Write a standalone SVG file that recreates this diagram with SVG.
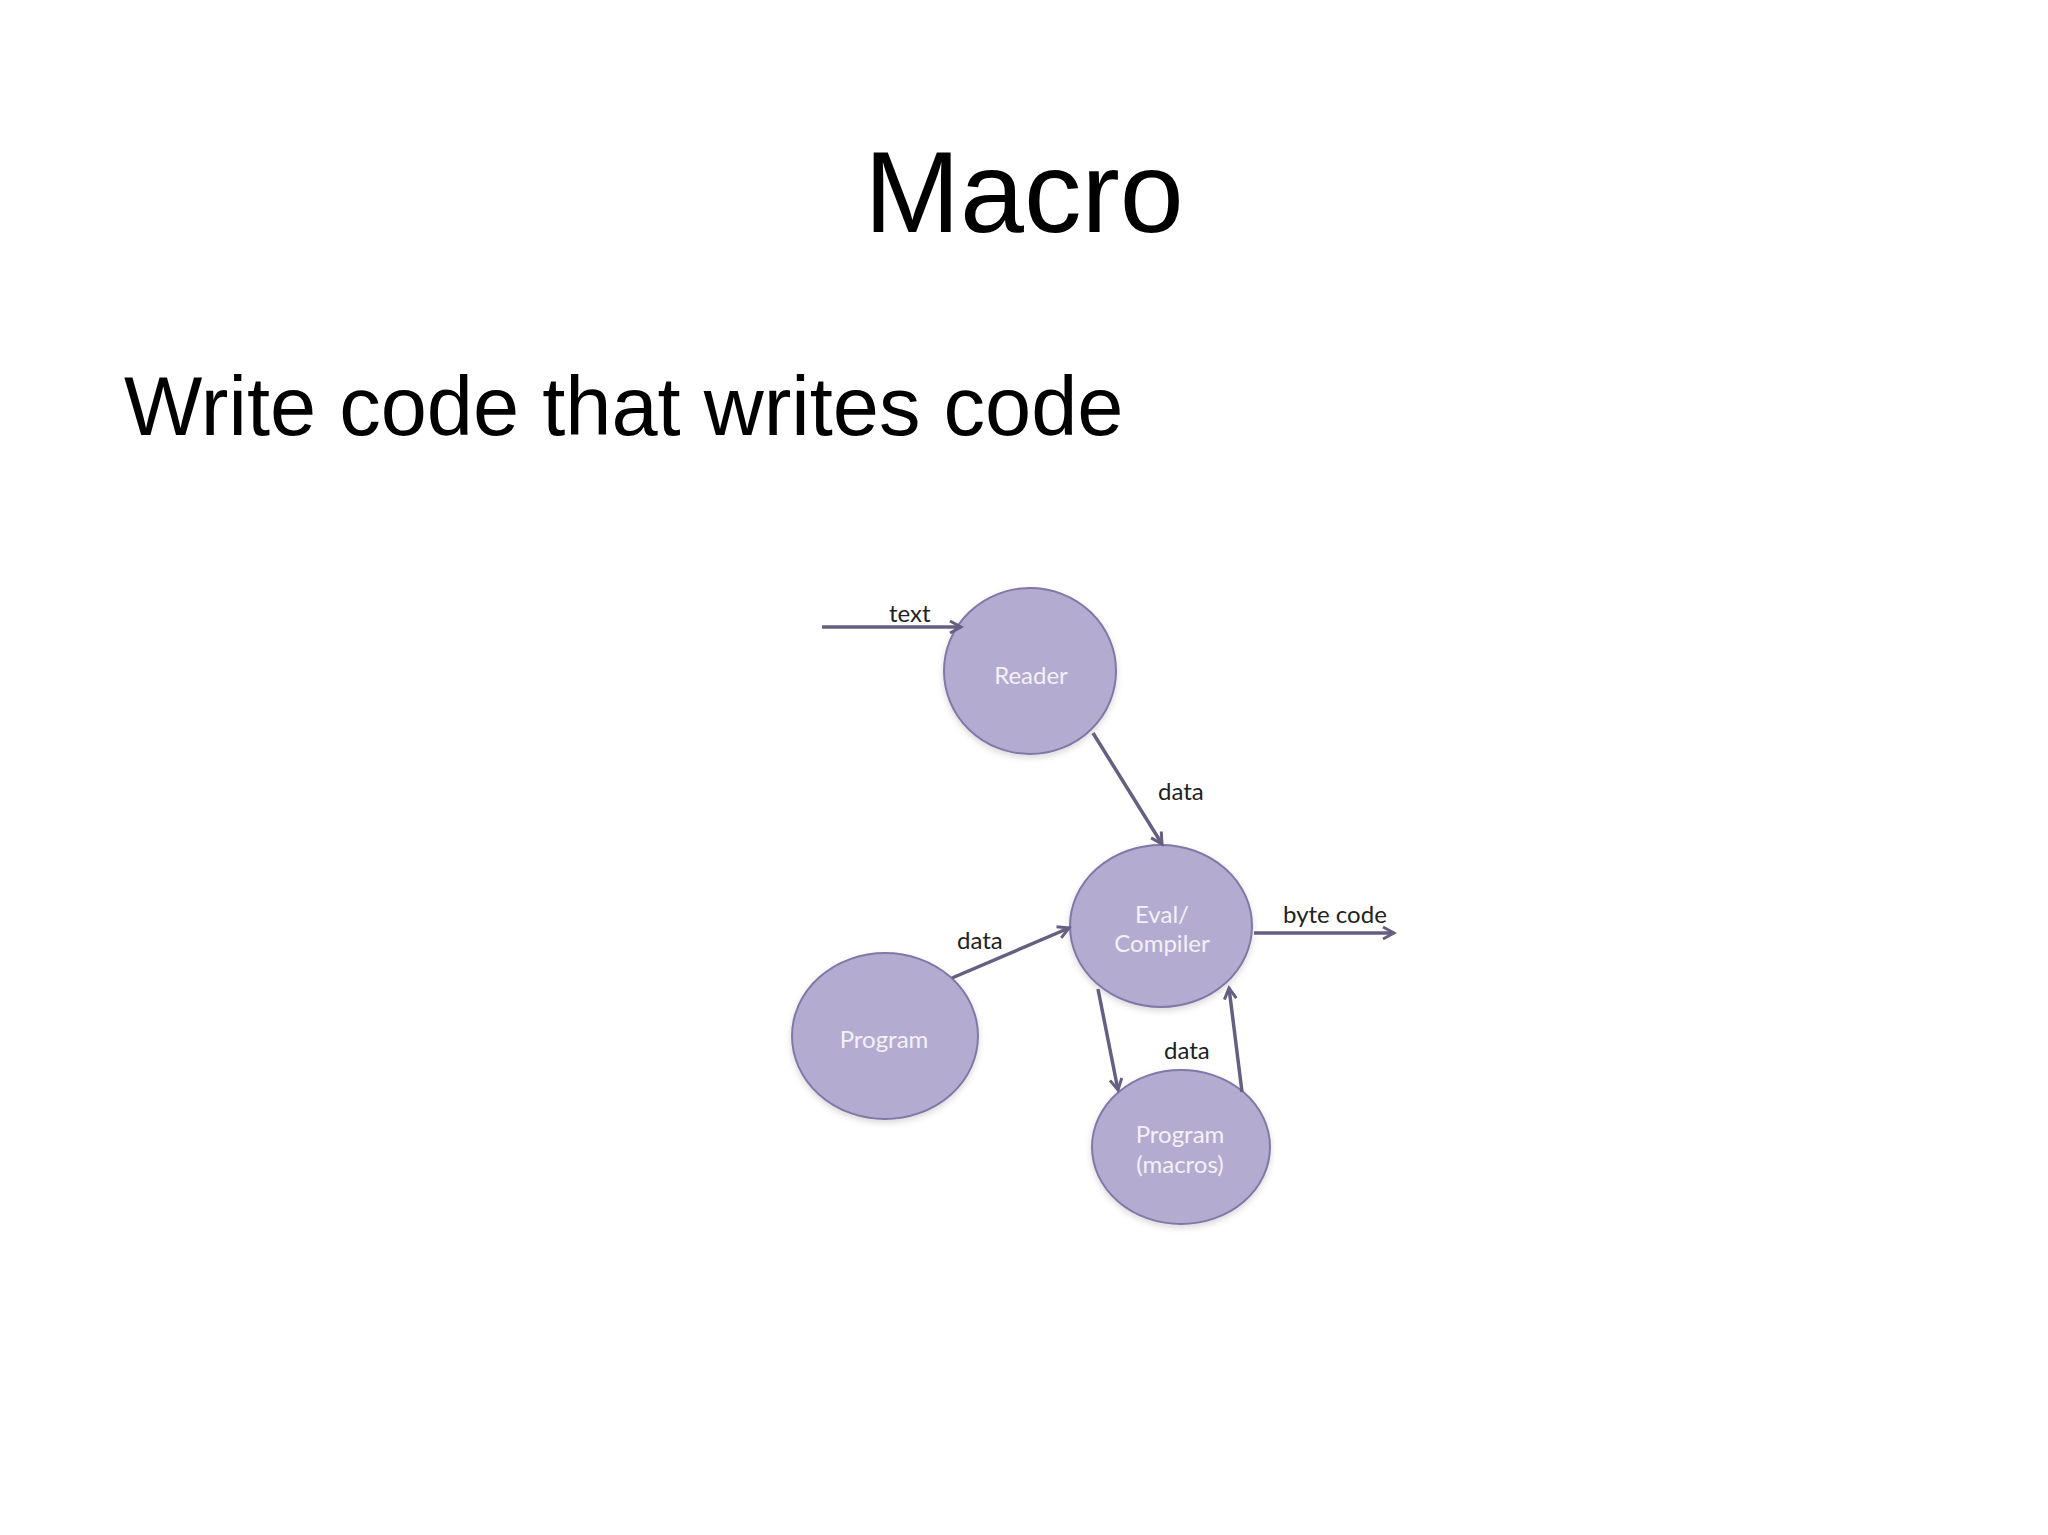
<svg xmlns="http://www.w3.org/2000/svg" width="2048" height="1535" viewBox="0 0 2048 1535">
<style>
.node{fill:#b4abd0;stroke:#8178a8;stroke-width:2}
.ntext{font-family:Lato,"Open Sans",sans-serif;font-size:24px;fill:#f4f1f8;text-anchor:middle}
.lbl{font-family:Lato,"Open Sans",sans-serif;font-size:24px;fill:#222}
.edge{stroke:#665f82;stroke-width:3.5;fill:none;marker-end:url(#ah)}
.title{font-family:"Liberation Sans",Arial,sans-serif;fill:#000}
</style>
<defs>
<marker id="ah" markerUnits="userSpaceOnUse" markerWidth="16" markerHeight="16" refX="13" refY="8" orient="auto">
<path d="M2,2 L13,8 L2,14" fill="none" stroke="#665f82" stroke-width="3"/>
</marker>
<filter id="sh" x="-20%" y="-20%" width="140%" height="140%">
<feDropShadow dx="0" dy="3" stdDeviation="3" flood-color="#000" flood-opacity="0.15"/>
</filter>
</defs>
<rect width="2048" height="1535" fill="#fff"/>
<text class="title" x="1024" y="232" font-size="115" text-anchor="middle">Macro</text>
<text class="title" x="124" y="435" font-size="83">Write code that writes code</text>

<g id="reader"><ellipse class="node" filter="url(#sh)" cx="1030" cy="671" rx="86" ry="83"/><text class="ntext" x="1031" y="684">Reader</text></g>
<g id="eval"><ellipse class="node" filter="url(#sh)" cx="1161" cy="926" rx="91" ry="81"/><text class="ntext" x="1162" y="923">Eval/</text><text class="ntext" x="1162" y="952">Compiler</text></g>
<g id="program"><ellipse class="node" filter="url(#sh)" cx="885" cy="1036" rx="93" ry="83"/><text class="ntext" x="884" y="1048">Program</text></g>
<g id="macros"><ellipse class="node" filter="url(#sh)" cx="1181" cy="1147" rx="89" ry="77"/><text class="ntext" x="1180" y="1143">Program</text><text class="ntext" x="1180" y="1173">(macros)</text></g>

<g id="connectors">
<line class="edge" x1="822" y1="627" x2="961" y2="627"/>
<line class="edge" x1="1093" y1="733" x2="1162" y2="844"/>
<line class="edge" x1="1254" y1="933" x2="1394" y2="933"/>
<line class="edge" x1="952" y1="978" x2="1069" y2="928"/>
<line class="edge" x1="1098" y1="989" x2="1118" y2="1090"/>
<line class="edge" x1="1242" y1="1092" x2="1229" y2="988"/>
<text class="lbl" x="889" y="622">text</text>
<text class="lbl" x="1158" y="800">data</text>
<text class="lbl" x="1283" y="923">byte code</text>
<text class="lbl" x="957" y="949">data</text>
<text class="lbl" x="1164" y="1059">data</text>
</g>
</svg>
